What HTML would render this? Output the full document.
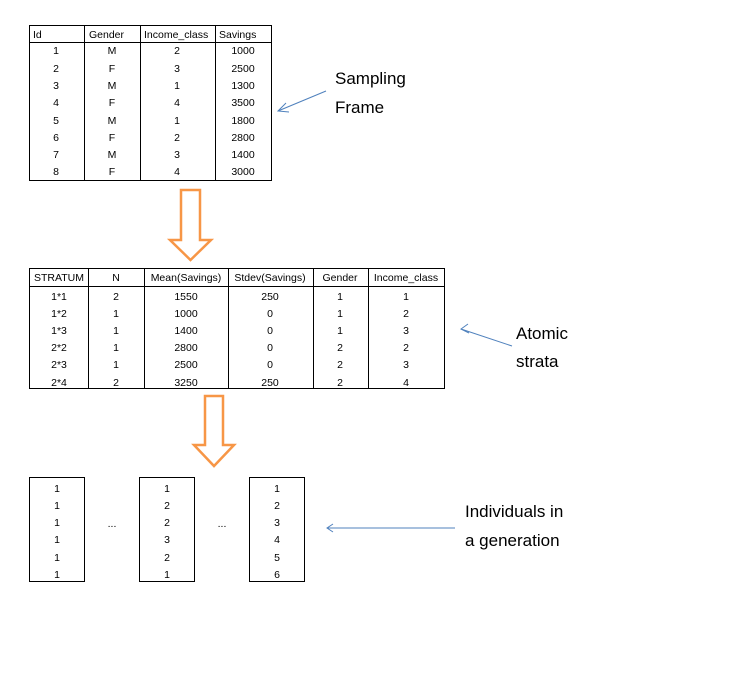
<!DOCTYPE html>
<html><head><meta charset="utf-8"><style>
html,body{margin:0;padding:0;background:#fff;}
svg{display:block;}
text{font-family:"Liberation Sans",sans-serif;}
.t{font-size:10.5px;fill:#000;}
.b{font-size:17px;fill:#000;}
</style></head><body>
<svg width="742" height="684" xmlns="http://www.w3.org/2000/svg">
<g stroke="#000" stroke-width="1" fill="none" shape-rendering="crispEdges">
<!-- table 1 -->
<rect x="29.5" y="25.5" width="242" height="155"/>
<line x1="29" y1="42.5" x2="272" y2="42.5"/>
<line x1="84.5" y1="25" x2="84.5" y2="181"/>
<line x1="140.5" y1="25" x2="140.5" y2="181"/>
<line x1="215.5" y1="25" x2="215.5" y2="181"/>
<!-- table 2 -->
<rect x="29.5" y="268.5" width="415" height="120"/>
<line x1="29" y1="286.5" x2="445" y2="286.5"/>
<line x1="88.5" y1="268" x2="88.5" y2="389"/>
<line x1="144.5" y1="268" x2="144.5" y2="389"/>
<line x1="228.5" y1="268" x2="228.5" y2="389"/>
<line x1="313.5" y1="268" x2="313.5" y2="389"/>
<line x1="368.5" y1="268" x2="368.5" y2="389"/>
<!-- lists -->
<rect x="29.5" y="477.5" width="55" height="104"/>
<rect x="139.5" y="477.5" width="55" height="104"/>
<rect x="249.5" y="477.5" width="55" height="104"/>
</g>
<!-- orange arrows -->
<polygon points="181,190 200,190 200,240 211,240 190.5,260 170,240 181,240" fill="#fff" stroke="#f79646" stroke-width="2.5" stroke-linejoin="miter"/>
<polygon points="205,396 223,396 223,445 234,445 214,466 194,445 205,445" fill="#fff" stroke="#f79646" stroke-width="2.5" stroke-linejoin="miter"/>
<!-- blue arrows -->
<g stroke="#4f81bd" stroke-width="1" fill="none">
<line x1="326" y1="91" x2="278" y2="111"/>
<polyline points="286,103 278,111 289,112"/>
<line x1="512" y1="346" x2="461" y2="329"/>
<polyline points="468,324 461,329 469,333"/>
<line x1="455" y1="528" x2="327" y2="528"/>
<polyline points="333,524 327,528 333,532"/>
</g>
<!-- table 1 text -->
<g class="t">
<text x="33" y="38">Id</text>
<text x="89" y="38">Gender</text>
<text x="144" y="38">Income_class</text>
<text x="219" y="38">Savings</text>
</g>
<g class="t" text-anchor="middle">
<g transform="translate(56,0)"><text y="54">1</text><text y="72">2</text><text y="89">3</text><text y="106">4</text><text y="124">5</text><text y="141">6</text><text y="158">7</text><text y="175">8</text></g>
<g transform="translate(112,0)"><text y="54">M</text><text y="72">F</text><text y="89">M</text><text y="106">F</text><text y="124">M</text><text y="141">F</text><text y="158">M</text><text y="175">F</text></g>
<g transform="translate(177,0)"><text y="54">2</text><text y="72">3</text><text y="89">1</text><text y="106">4</text><text y="124">1</text><text y="141">2</text><text y="158">3</text><text y="175">4</text></g>
<g transform="translate(243,0)"><text y="54">1000</text><text y="72">2500</text><text y="89">1300</text><text y="106">3500</text><text y="124">1800</text><text y="141">2800</text><text y="158">1400</text><text y="175">3000</text></g>
</g>
<!-- table 2 text -->
<g class="t" text-anchor="middle">
<text x="59" y="281">STRATUM</text><text x="116" y="281">N</text><text x="186" y="281">Mean(Savings)</text><text x="270" y="281">Stdev(Savings)</text><text x="340" y="281">Gender</text><text x="406" y="281">Income_class</text>
<g transform="translate(59,0)"><text y="300">1*1</text><text y="317">1*2</text><text y="334">1*3</text><text y="351">2*2</text><text y="368">2*3</text><text y="386">2*4</text></g>
<g transform="translate(116,0)"><text y="300">2</text><text y="317">1</text><text y="334">1</text><text y="351">1</text><text y="368">1</text><text y="386">2</text></g>
<g transform="translate(186,0)"><text y="300">1550</text><text y="317">1000</text><text y="334">1400</text><text y="351">2800</text><text y="368">2500</text><text y="386">3250</text></g>
<g transform="translate(270,0)"><text y="300">250</text><text y="317">0</text><text y="334">0</text><text y="351">0</text><text y="368">0</text><text y="386">250</text></g>
<g transform="translate(340,0)"><text y="300">1</text><text y="317">1</text><text y="334">1</text><text y="351">2</text><text y="368">2</text><text y="386">2</text></g>
<g transform="translate(406,0)"><text y="300">1</text><text y="317">2</text><text y="334">3</text><text y="351">2</text><text y="368">3</text><text y="386">4</text></g>
<!-- lists -->
<g transform="translate(57,0)"><text y="492">1</text><text y="509">1</text><text y="526">1</text><text y="543">1</text><text y="561">1</text><text y="578">1</text></g>
<g transform="translate(167,0)"><text y="492">1</text><text y="509">2</text><text y="526">2</text><text y="543">3</text><text y="561">2</text><text y="578">1</text></g>
<g transform="translate(277,0)"><text y="492">1</text><text y="509">2</text><text y="526">3</text><text y="543">4</text><text y="561">5</text><text y="578">6</text></g>
<text x="112" y="527">...</text><text x="222" y="527">...</text>
</g>
<!-- labels -->
<g class="b">
<text x="335" y="84">Sampling</text><text x="335" y="113">Frame</text>
<text x="516" y="339">Atomic</text><text x="516" y="367">strata</text>
<text x="465" y="517">Individuals in</text><text x="465" y="546">a generation</text>
</g>
</svg>
</body></html>
